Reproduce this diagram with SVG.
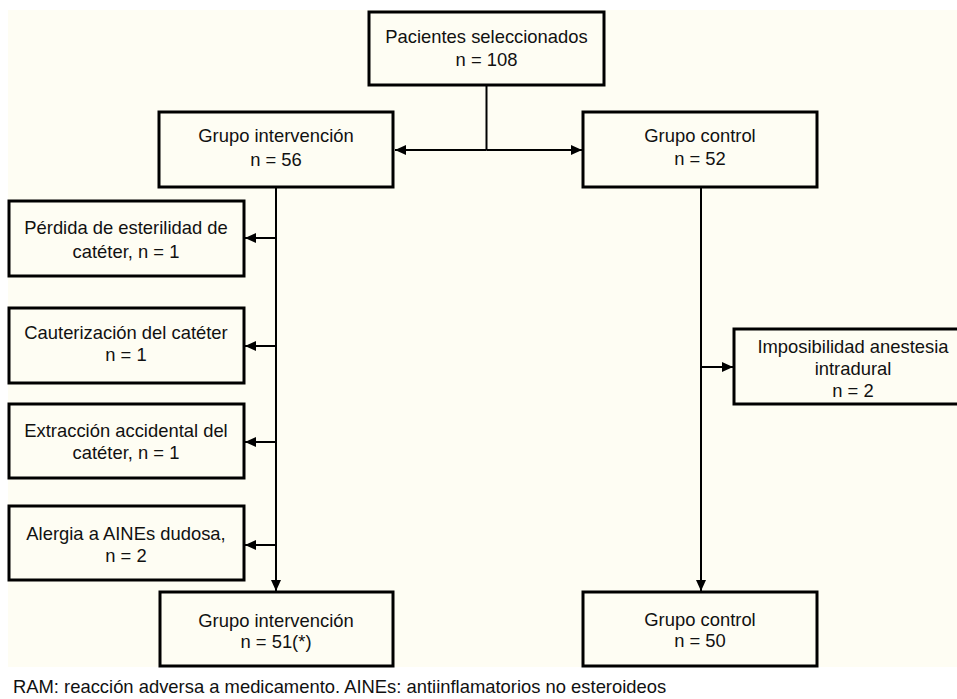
<svg xmlns="http://www.w3.org/2000/svg" width="957" height="699" viewBox="0 0 957 699">
<defs>
<marker id="ah" markerUnits="userSpaceOnUse" markerWidth="12" markerHeight="12" refX="11" refY="6" orient="auto">
<path d="M0,1 L11,6 L0,11 Z" fill="#000"/>
</marker>
<style>
.box{fill:none;stroke:#000;stroke-width:3}
.t{font-family:"Liberation Sans",Arial,sans-serif;font-size:18.4px;fill:#111;text-anchor:middle}
.c{fill:none;stroke:#000;stroke-width:2}
</style>
</defs>
<rect x="0" y="0" width="957" height="699" fill="#fff"/>
<rect x="8" y="10" width="949" height="657" fill="#FEFDF3"/>
<g id="connectors">
<path class="c" d="M486.5,85 V150"/>
<path class="c" d="M486.5,150 H395" marker-end="url(#ah)"/>
<path class="c" d="M486.5,150 H582" marker-end="url(#ah)"/>
<path class="c" d="M276,187 V591" marker-end="url(#ah)"/>
<path class="c" d="M276,238 H245" marker-end="url(#ah)"/>
<path class="c" d="M276,346 H245" marker-end="url(#ah)"/>
<path class="c" d="M276,442 H245" marker-end="url(#ah)"/>
<path class="c" d="M276,545 H245" marker-end="url(#ah)"/>
<path class="c" d="M701,187 V591" marker-end="url(#ah)"/>
<path class="c" d="M701,367 H733" marker-end="url(#ah)"/>
</g>
<g id="seleccionados">
<rect class="box" x="369" y="12" width="235" height="73"/>
<text class="t" x="486.5" y="43">Pacientes seleccionados</text>
<text class="t" x="486.5" y="66">n = 108</text>
</g>
<g id="intervencion">
<rect class="box" x="159" y="112" width="234" height="75"/>
<text class="t" x="276" y="142">Grupo intervención</text>
<text class="t" x="276" y="166">n = 56</text>
</g>
<g id="control">
<rect class="box" x="583" y="112" width="234" height="75"/>
<text class="t" x="700" y="142">Grupo control</text>
<text class="t" x="700" y="165">n = 52</text>
</g>
<g id="perdida">
<rect class="box" x="9" y="201" width="235" height="75"/>
<text class="t" x="126" y="234">Pérdida de esterilidad de</text>
<text class="t" x="126" y="258">catéter, n = 1</text>
</g>
<g id="cauterizacion">
<rect class="box" x="9" y="308" width="235" height="75"/>
<text class="t" x="126" y="339">Cauterización del catéter</text>
<text class="t" x="126" y="361">n = 1</text>
</g>
<g id="extraccion">
<rect class="box" x="9" y="404" width="235" height="74"/>
<text class="t" x="126" y="437">Extracción accidental del</text>
<text class="t" x="126" y="459">catéter, n = 1</text>
</g>
<g id="alergia">
<rect class="box" x="9" y="506" width="235" height="74"/>
<text class="t" x="126" y="540">Alergia a AINEs dudosa,</text>
<text class="t" x="126" y="562">n = 2</text>
</g>
<g id="imposibilidad">
<rect class="box" x="734" y="329" width="240" height="75"/>
<text class="t" x="853" y="353">Imposibilidad anestesia</text>
<text class="t" x="853" y="375">intradural</text>
<text class="t" x="853" y="397">n = 2</text>
</g>
<g id="intervencion-final">
<rect class="box" x="160" y="592" width="233" height="74"/>
<text class="t" x="276" y="627">Grupo intervención</text>
<text class="t" x="276" y="648">n = 51(*)</text>
</g>
<g id="control-final">
<rect class="box" x="583" y="592" width="234" height="74"/>
<text class="t" x="700" y="626">Grupo control</text>
<text class="t" x="700" y="647">n = 50</text>
</g>
<text x="13" y="693" style="font-family:'Liberation Sans',Arial,sans-serif;font-size:18.4px;fill:#111">RAM: reacción adversa a medicamento. AINEs: antiinflamatorios no esteroideos</text>
</svg>
